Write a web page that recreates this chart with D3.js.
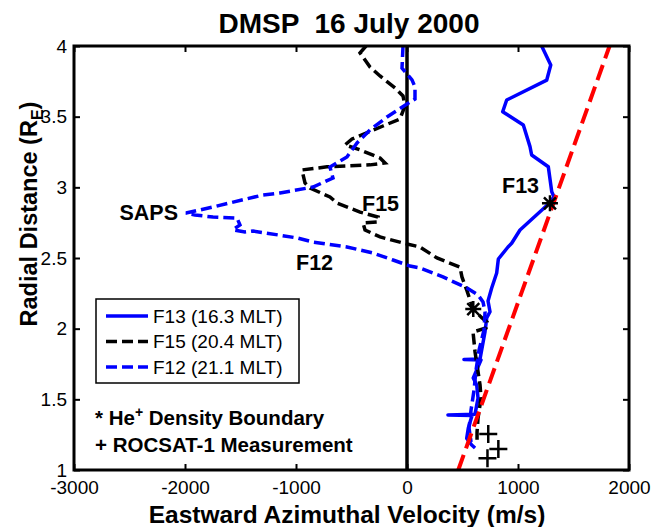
<!DOCTYPE html>
<html>
<head>
<meta charset="utf-8">
<script src="https://cdnjs.cloudflare.com/ajax/libs/d3/7.8.5/d3.min.js"></script>
<style>
  body { margin: 0; background: #fff; }
  svg { display: block; font-family: "Liberation Sans", Arial, Helvetica, sans-serif; }
</style>
</head>
<body>
<div id="chart"></div>
<script>
// values: eastward velocity (m/s) vs radial distance (RE)
var f13V = [1213, 1295, 1259, 898, 862, 1048, 1108, 1123, 1273, 1304, 1324, 1282, 1018, 943, 910, 823, 808, 763, 730, 748, 718, 703, 658, 513, 667, 597, 628, 640, 613, 369, 586, 552, 538, 583, 613];
var f13R = [4.0, 3.866, 3.759, 3.618, 3.535, 3.441, 3.288, 3.229, 3.146, 2.969, 2.934, 2.887, 2.698, 2.604, 2.578, 2.493, 2.394, 2.288, 2.196, 2.12, 2.076, 1.979, 1.785, 1.782, 1.779, 1.651, 1.601, 1.509, 1.395, 1.39, 1.386, 1.295, 1.224, 1.177, 1.156];

var f15V = [-369, -423, -333, -243, -108, -36, -18, -63, -216, -495, -559, -423, -243, -198, -333, -721, -946, -919, -874, -694, -631, -423, -261, -270, -396, -378, -243, 0, 117, 270, 477, 495, 541, 595, 676, 721, 712, 595, 613, 631, 658, 667, 640, 631, 631];
var f15R = [4.0, 3.951, 3.851, 3.788, 3.703, 3.647, 3.576, 3.484, 3.434, 3.342, 3.300, 3.265, 3.208, 3.173, 3.159, 3.145, 3.123, 3.031, 2.995, 2.932, 2.889, 2.825, 2.790, 2.755, 2.748, 2.698, 2.649, 2.599, 2.578, 2.500, 2.436, 2.366, 2.267, 2.139, 2.075, 2.047, 2.005, 1.976, 1.835, 1.743, 1.601, 1.509, 1.368, 1.269, 1.205];

var f12V = [-36, -45, 45, 72, 72, 0, -180, -333, -450, -541, -694, -667, -847, -1144, -1297, -1748, -1991, -1910, -1748, -1532, -1505, -1568, -1460, -1387, -991, -847, -541, -306, -126, 27, 117, 324, 541, 640, 685, 703, 694, 649, 622, 604, 577, 559, 577];
var f12R = [4.0, 3.844, 3.760, 3.710, 3.625, 3.590, 3.498, 3.406, 3.314, 3.215, 3.144, 3.066, 3.002, 2.960, 2.946, 2.861, 2.818, 2.804, 2.790, 2.783, 2.734, 2.700, 2.684, 2.691, 2.642, 2.613, 2.578, 2.535, 2.486, 2.443, 2.429, 2.366, 2.288, 2.238, 2.189, 2.118, 1.991, 1.849, 1.708, 1.566, 1.425, 1.297, 1.198];

// corotation line (red dashed)
var corotV = [462, 1825];
var corotR = [1, 4];

// He+ density boundary (*) and ROCSAT-1 measurements (+)
var heV = [1288, 597];
var heR = [2.887, 2.139];
var rocV = [732, 823, 725];
var rocR = [1.255, 1.149, 1.083];

var xTicks = [-3000, -2000, -1000, 0, 1000, 2000];
var yTicks = [1, 1.5, 2, 2.5, 3, 3.5, 4];
var yTickLabels = ["1", "1.5", "2", "2.5", "3", "3.5", "4"];

var legendNames = ["F13 (16.3 MLT)", "F15 (20.4 MLT)", "F12 (21.1 MLT)"];

var w = 665, h = 527;
var pL = 74, pR = 629, pT = 46, pB = 470;

var svg = d3.select("#chart").append("svg")
  .attr("width", w)
  .attr("height", h);

var x = d3.scaleLinear().domain([-3000, 2000]).range([pL, pR]);
var y = d3.scaleLinear().domain([1, 4]).range([pB, pT]);

function pts(vs, rs) {
  return vs.map(function(v, i) { return [v, rs[i]]; });
}
var line = d3.line()
  .x(function(d) { return x(d[0]); })
  .y(function(d) { return y(d[1]); });

// title
svg.append("text")
  .attr("x", 349).attr("y", 33)
  .attr("text-anchor", "middle")
  .style("white-space", "pre")
  .style("font-weight", "bold").style("font-size", "28px")
  .text("DMSP  16 July 2000");

// axes with inward ticks (box on all 4 sides)
var gx = svg.append("g").attr("transform", "translate(0," + pB + ")")
  .call(d3.axisBottom(x).tickValues(xTicks).tickSize(-6).tickPadding(11).tickFormat(d3.format("d")));
svg.append("g").attr("transform", "translate(0," + pT + ")")
  .call(d3.axisTop(x).tickValues(xTicks).tickSize(-6).tickFormat(""));
var gy = svg.append("g").attr("transform", "translate(" + pL + ",0)")
  .call(d3.axisLeft(y).tickValues(yTicks).tickSize(-6).tickPadding(7)
    .tickFormat(function(d, i) { return yTickLabels[i]; }));
svg.append("g").attr("transform", "translate(" + pR + ",0)")
  .call(d3.axisRight(y).tickValues(yTicks).tickSize(-6).tickFormat(""));

svg.selectAll(".domain").remove();
svg.selectAll(".tick line").attr("stroke", "#000").attr("stroke-width", 2);
svg.selectAll(".tick text").style("font-size", "19px").attr("fill", "#000")
  .style("font-family", "'Liberation Sans', Arial, Helvetica, sans-serif");
gx.selectAll(".tick text").text(function(d) { return d; });

// zero line
svg.append("path")
  .attr("d", line([[0, 1], [0, 4]]))
  .attr("stroke", "#000").attr("stroke-width", 3.5).attr("fill", "none");

// curves
svg.append("path")
  .attr("d", line(pts(f13V, f13R)))
  .attr("stroke", "#0000ff").attr("stroke-width", 3.5).attr("fill", "none")
  .attr("stroke-linejoin", "round");

svg.append("path")
  .attr("d", line(pts(f15V, f15R)))
  .attr("stroke", "#000").attr("stroke-width", 3.5).attr("fill", "none")
  .attr("stroke-dasharray", "11,5");

svg.append("path")
  .attr("d", line(pts(f12V, f12R)))
  .attr("stroke", "#0000ff").attr("stroke-width", 3.5).attr("fill", "none")
  .attr("stroke-dasharray", "11,5");

svg.append("path")
  .attr("d", line(pts(corotV, corotR)))
  .attr("stroke", "#ff0000").attr("stroke-width", 4).attr("fill", "none")
  .attr("stroke-dasharray", "16,7");

// star markers
svg.selectAll(".star")
  .data(pts(heV, heR))
  .enter().append("path")
  .attr("class", "star")
  .attr("transform", function(d) { return "translate(" + x(d[0]) + "," + y(d[1]) + ")"; })
  .attr("d", "M-8,0L8,0M0,-8L0,8M-6,-6L6,6M-6,6L6,-6")
  .attr("stroke", "#000").attr("stroke-width", 2.5);

// plus markers
svg.selectAll(".plus")
  .data(pts(rocV, rocR))
  .enter().append("path")
  .attr("class", "plus")
  .attr("transform", function(d) { return "translate(" + x(d[0]) + "," + y(d[1]) + ")"; })
  .attr("d", "M-9,0L9,0M0,-9L0,9")
  .attr("stroke", "#000").attr("stroke-width", 2.5);

// frame
svg.append("rect")
  .attr("x", pL).attr("y", pT)
  .attr("width", pR - pL).attr("height", pB - pT)
  .attr("fill", "none").attr("stroke", "#000").attr("stroke-width", 3);

// curve labels
function label(t, v, r, anchor) {
  svg.append("text")
    .attr("x", x(v)).attr("y", y(r))
    .attr("text-anchor", anchor)
    .style("font-weight", "bold").style("font-size", "21.5px")
    .text(t);
}
label("SAPS", -2063, 2.769, "end");
label("F15", -405, 2.833, "start");
label("F12", -1000, 2.415, "start");
label("F13", 856, 2.96, "start");

// legend
var lg = svg.append("g");
lg.append("rect")
  .attr("x", 96).attr("y", 299).attr("width", 203).attr("height", 84)
  .attr("fill", "#fff").attr("stroke", "#000").attr("stroke-width", 1.5);
var lgColors = ["#0000ff", "#000", "#0000ff"];
var lgDash = [null, "11,5", "11,5"];
legendNames.forEach(function(n, i) {
  var ly = 316 + i * 25.5;
  lg.append("line")
    .attr("x1", 106).attr("x2", 148).attr("y1", ly).attr("y2", ly)
    .attr("stroke", lgColors[i]).attr("stroke-width", 3.5)
    .attr("stroke-dasharray", lgDash[i]);
  lg.append("text")
    .attr("x", 153).attr("y", ly)
    .attr("dy", "0.35em")
    .style("font-size", "19px")
    .text(n);
});

// annotations
var a1 = svg.append("text")
  .attr("x", 95).attr("y", 425)
  .style("white-space", "pre")
  .style("font-weight", "bold").style("font-size", "20.5px");
a1.append("tspan").text("* He");
a1.append("tspan").attr("dy", -8).style("font-size", "14px").text("+");
a1.append("tspan").attr("dy", 8).text(" Density Boundary");

svg.append("text")
  .attr("x", 95).attr("y", 452)
  .style("white-space", "pre")
  .style("font-weight", "bold").style("font-size", "20.5px")
  .text("+ ROCSAT-1 Measurement");

// axis labels
svg.append("text")
  .attr("x", 347).attr("y", 523)
  .attr("text-anchor", "middle")
  .style("font-weight", "bold").style("font-size", "24.5px")
  .text("Eastward Azimuthal Velocity (m/s)");

var yl = svg.append("text")
  .attr("transform", "translate(37,214) rotate(-90)")
  .attr("text-anchor", "middle")
  .style("font-weight", "bold").style("font-size", "23.5px");
yl.append("tspan").text("Radial Distance (R");
yl.append("tspan").attr("dy", 6).style("font-size", "16px").text("E");
yl.append("tspan").attr("dy", -6).text(")");
</script>
</body>
</html>
